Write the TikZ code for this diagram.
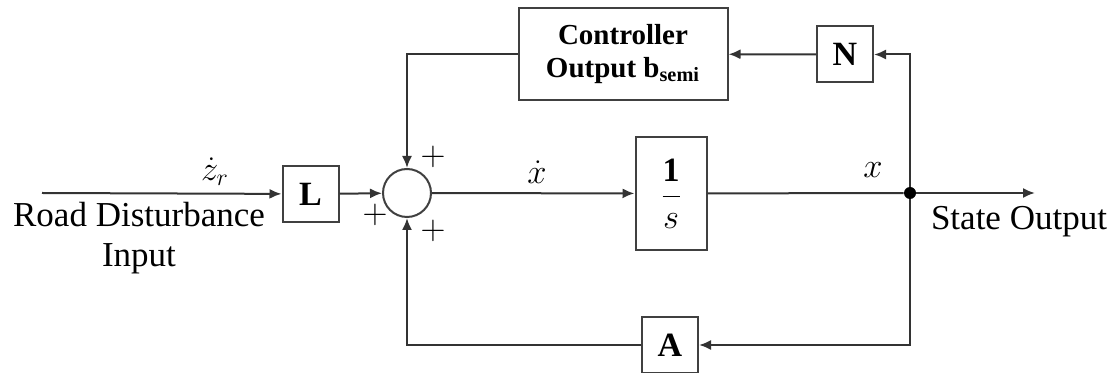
\documentclass[tikz,border=0pt]{standalone}
\usepackage{fontspec}
\setmainfont{Liberation Serif}
\usetikzlibrary{arrows.meta}

\begin{document}
\begin{tikzpicture}
[
	x=0.5pt, y=-0.5pt,
	block/.style={draw=black!75,line width=1pt,minimum width=28pt,minimum height=28pt,inner sep=0pt,font=\fontsize{17}{20}\selectfont\bfseries},
	sumpt/.style={circle,draw=black!75,line width=1pt,minimum size=24pt,inner sep=0pt},
	dotpt/.style={circle,fill,inner sep=0pt,minimum size=6pt},
	wire/.style={line width=1pt,black!80},
	sig/.style={wire,-{Latex[length=6pt,width=5pt]}},
	txt/.style={font=\fontsize{17.5}{20}\selectfont},
	sign/.style={font=\fontsize{16}{18}\selectfont}
]

	\useasboundingbox (0,0) rectangle (1114,373);

	% blocks
	\node[block] (L) at (310.5,194) {L};
	\node[sumpt] (sum) at (407,193) {};
	\node[block,minimum width=35.5pt,minimum height=56.5pt] (integ) at (671,193.5) {$\displaystyle\frac{\mathbf{1}}{s}$};
	\node[block,minimum width=104.5pt,minimum height=46pt,font=\fontsize{14.5}{16.5}\selectfont\bfseries,align=center] (ctrl) at (623,54) {Controller\\Output b\textsubscript{semi}};
	\node[block] (N) at (845,54.5) {N};
	\node[block] (A) at (670,345) {A};
	\node[dotpt] (tap) at (910,193) {};

	% ends
	\coordinate (in) at (42,193);
	\coordinate (out) at (1035,193);

	% connectors
	\draw[sig] (in) -- (L);
	\draw[sig] (L) -- (sum);
	\draw[sig] (sum) -- (integ);
	\draw[wire] (integ) -- (tap);
	\draw[sig] (tap) -- (out);
	\draw[sig] (tap) |- (N);
	\draw[sig] (N) -- (ctrl);
	\draw[sig] (ctrl) -| (sum);
	\draw[sig] (tap) |- (A);
	\draw[sig] (A) -| (sum);

	% labels
	\node[txt] (zr) at (215,172) {$\dot{z}_r$};
	\node[txt] (xdot) at (537,172) {$\dot{x}$};
	\node[txt] (xs) at (873,170) {$x$};
	\node[txt,align=center] (road) at (139,238) {Road Disturbance\\Input};
	\node[txt] (state) at (1019,222) {State Output};

	% signs
	\node[sign] (ptop) at (433,157) {$+$};
	\node[sign] (pbot) at (433,231) {$+$};
	\node[sign] (pleft) at (375,215) {$+$};

\end{tikzpicture}
\end{document}
